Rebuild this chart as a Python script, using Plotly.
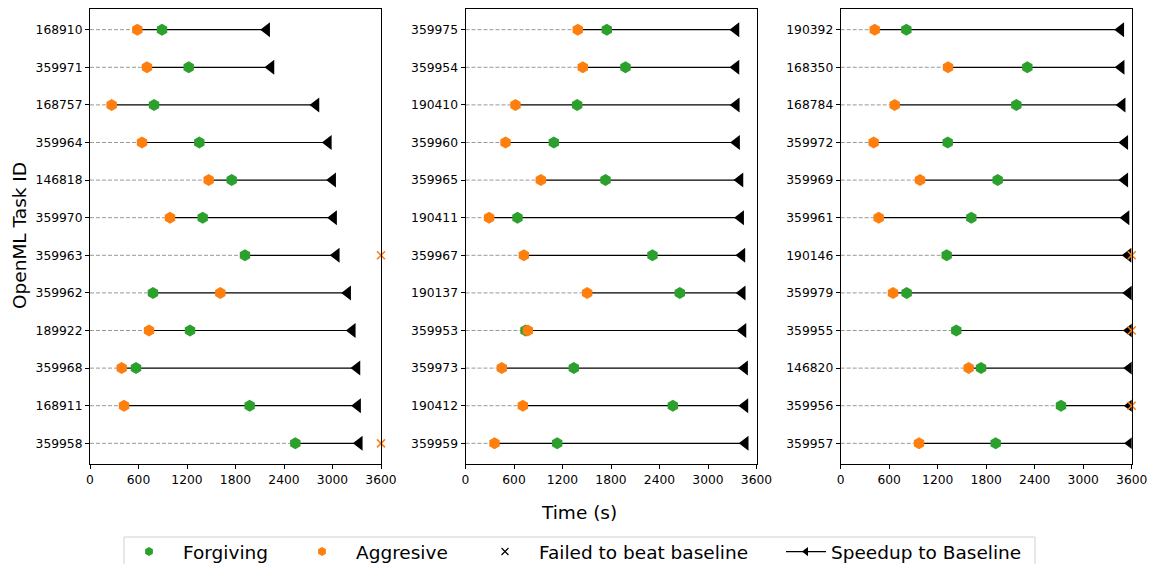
import plotly.graph_objects as go

# ---------------- data ----------------
TIME_BUDGET = 3600
x_ticks = [0, 600, 1200, 1800, 2400, 3000, 3600]

p1_ids = ["168910", "359971", "168757", "359964", "146818", "359970",
          "359963", "359962", "189922", "359968", "168911", "359958"]
p1_forgiving = [891, 1221, 792, 1352, 1753, 1394, 1917, 779, 1237, 569, 1975, 2540]
p1_aggressive = [585, 705, 268, 643, 1468, 990, None, 1612, 730, 392, 421, None]
p1_baseline = [2186, 2239, 2796, 2949, 3002, 3014, 3047, 3188, 3245, 3303, 3311, 3332]

p2_ids = ["359975", "359954", "190410", "359960", "359965", "190411",
          "359967", "190137", "359953", "359973", "190412", "359959"]
p2_forgiving = [1748, 1979, 1381, 1093, 1732, 643, 2313, 2651, 742, 1340, 2565, 1134]
p2_aggressive = [1389, 1451, 618, 495, 932, 292, 722, 1505, 771, 449, 709, 359]
p2_baseline = [3346, 3346, 3350, 3354, 3396, 3404, 3420, 3424, 3433, 3453, 3457, 3461]

p3_ids = ["190392", "168350", "168784", "359972", "359969", "359961",
          "190146", "359979", "359955", "146820", "359956", "359957"]
p3_forgiving = [812, 2309, 2173, 1324, 1942, 1616, 1311, 816, 1430, 1736, 2725, 1917]
p3_aggressive = [421, 1328, 668, 408, 981, 470, None, 647, None, 1583, None, 969]
p3_baseline = [3465, 3470, 3482, 3515, 3515, 3530, 3557, 3564, 3572, 3576, 3583, 3587]

legend_names = ["Forgiving", "Aggresive", "Failed to beat baseline", "Speedup to Baseline"]

# ---------------- style ----------------
GREEN = "#2ca02c"
ORANGE = "#ff7f0e"
FONT = "DejaVu Sans"
W, H = 1149, 564

panels = [
    (p1_ids, p1_forgiving, p1_aggressive, p1_baseline),
    (p2_ids, p2_forgiving, p2_aggressive, p2_baseline),
    (p3_ids, p3_forgiving, p3_aggressive, p3_baseline),
]
x_domains = [(90 / W, 381 / W), (465.5 / W, 756.5 / W), (840.7 / W, 1131.7 / W)]
y_domain = (1 - 464 / H, 1 - 9 / H)

fig = go.Figure()

for i, (ids, forg, aggr, base) in enumerate(panels):
    xa = "x" if i == 0 else f"x{i + 1}"
    ya = "y" if i == 0 else f"y{i + 1}"
    starts = [min(v for v in (f, a) if v is not None) for f, a in zip(forg, aggr)]

    dx, dy, sx, sy = [], [], [], []
    for tid, s, b in zip(ids, starts, base):
        dx += [0, s, None]
        dy += [tid, tid, None]
        sx += [s, b, None]
        sy += [tid, tid, None]

    fig.add_trace(go.Scatter(x=dx, y=dy, mode="lines", xaxis=xa, yaxis=ya,
                             line=dict(color="rgba(128,128,128,0.8)", width=1, dash="4px,2px"),
                             showlegend=False, hoverinfo="skip"))
    fig.add_trace(go.Scatter(x=sx, y=sy, mode="lines", xaxis=xa, yaxis=ya,
                             line=dict(color="black", width=1.2),
                             showlegend=False, hoverinfo="skip"))
    fig.add_trace(go.Scatter(x=base, y=ids, mode="markers", xaxis=xa, yaxis=ya,
                             marker=dict(symbol="triangle-left", size=13, color="black"),
                             showlegend=False))
    fig.add_trace(go.Scatter(x=forg, y=ids, mode="markers", xaxis=xa, yaxis=ya,
                             marker=dict(symbol="hexagon", size=12, color=GREEN),
                             showlegend=False))
    fig.add_trace(go.Scatter(x=aggr, y=ids, mode="markers", xaxis=xa, yaxis=ya,
                             marker=dict(symbol="hexagon", size=12, color=ORANGE),
                             showlegend=False))
    fail_ids = [t for t, a in zip(ids, aggr) if a is None]
    fail_x = [TIME_BUDGET for a in aggr if a is None]
    if fail_ids:
        fig.add_trace(go.Scatter(x=fail_x, y=fail_ids, mode="markers", xaxis=xa, yaxis=ya,
                                 marker=dict(symbol="x-thin", size=8,
                                             line=dict(color=ORANGE, width=1.6)),
                                 cliponaxis=False, showlegend=False))

    axis_common = dict(showline=True, linecolor="black", linewidth=1, mirror=True,
                       ticks="outside", ticklen=4, tickcolor="black", showgrid=False,
                       zeroline=False, automargin=False,
                       tickfont=dict(family=FONT, size=12.3, color="black"))
    fig.layout[("xaxis" if i == 0 else f"xaxis{i + 1}")] = dict(
        domain=list(x_domains[i]), range=[0, TIME_BUDGET], tickvals=x_ticks,
        ticktext=[str(t) for t in x_ticks], anchor=ya, **axis_common)
    fig.layout[("yaxis" if i == 0 else f"yaxis{i + 1}")] = dict(
        domain=list(y_domain), type="category", categoryorder="array",
        categoryarray=ids, range=[len(ids) - 0.45, -0.55], anchor=xa, **axis_common)

# legend entries (one small legend per entry, so each can sit where the reference has it)
legend_traces = [
    dict(mode="markers", marker=dict(symbol="hexagon", size=9, color=GREEN)),
    dict(mode="markers", marker=dict(symbol="hexagon", size=9, color=ORANGE)),
    dict(mode="markers", marker=dict(symbol="x-thin", size=7, line=dict(color="black", width=1.2))),
    dict(mode="lines+markers", line=dict(color="black", width=1.3),
         marker=dict(symbol="triangle-left", size=8, color="black")),
]
legend_left_px = [115, 288, 471, 781]
legend_itemwidth = [58, 58, 58, 40]
for k, (name, spec) in enumerate(zip(legend_names, legend_traces)):
    lg = "legend" if k == 0 else f"legend{k + 1}"
    fig.add_trace(go.Scatter(x=[None], y=[None], name=name, legend=lg, showlegend=True, **spec))
    fig.layout[lg] = dict(x=legend_left_px[k] / W, xanchor="left",
                          y=1 - 552 / H, yanchor="middle",
                          bgcolor="rgba(0,0,0,0)", borderwidth=0,
                          font=dict(family=FONT, size=18.5, color="black"),
                          itemwidth=legend_itemwidth[k])

# legend frame
fig.add_shape(type="rect", xref="paper", yref="paper", x0=124 / W, x1=1035 / W,
              y0=1 - 575 / H, y1=1 - 537 / H, line=dict(color="#d0d0d0", width=1),
              fillcolor="rgba(255,255,255,0.8)", layer="below")

fig.add_annotation(text="Time (s)", xref="paper", yref="paper", x=579 / W, y=1 - 512 / H,
                   showarrow=False, xanchor="center", yanchor="middle",
                   font=dict(family=FONT, size=18.5, color="black"))
fig.add_annotation(text="OpenML Task ID", xref="paper", yref="paper", x=19 / W, y=1 - 236 / H,
                   showarrow=False, textangle=-90, xanchor="center", yanchor="middle",
                   font=dict(family=FONT, size=18.5, color="black"))

fig.update_layout(
    width=W, height=H,
    margin=dict(l=0, r=0, t=0, b=0, autoexpand=False),
    paper_bgcolor="white", plot_bgcolor="white",
    font=dict(family=FONT, color="black"),
)

fig.write_html("out.html", config={"displayModeBar": False},
               post_script="document.body.style.margin='0';")
